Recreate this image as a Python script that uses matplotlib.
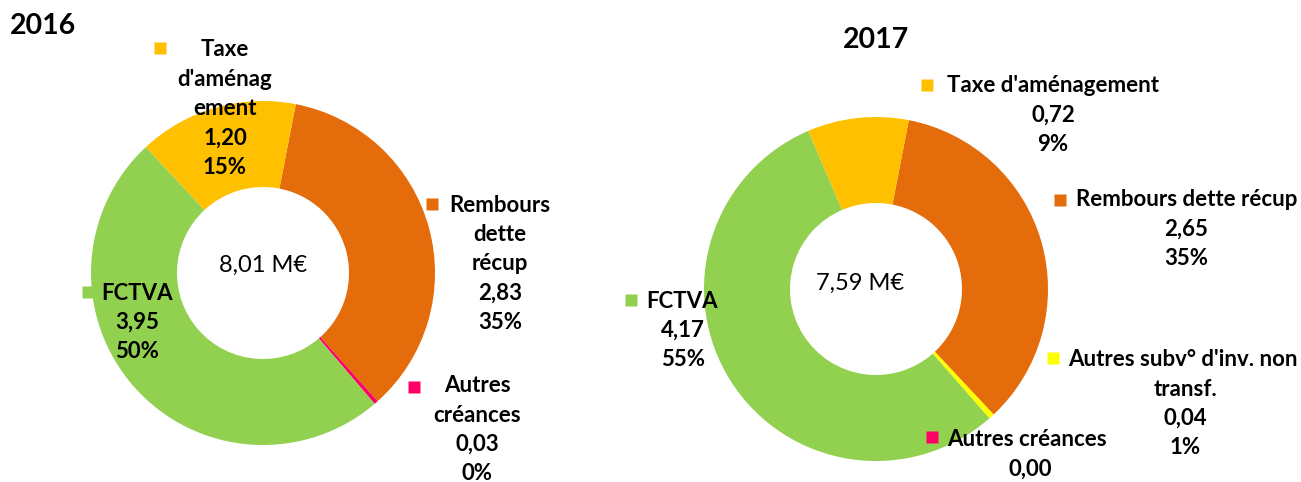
# -*- coding: utf8 -*-
import matplotlib
matplotlib.use("Agg")
import matplotlib.pyplot as plt

plt.rcParams['font.family'] = ['Lato', 'DejaVu Sans']

W, H = 1301, 482

# données 2016 (ordre horaire à partir de "Rembours")
cat_2016 = ["Rembours\ndette\nrécup", "Autres\ncréances", "FCTVA", "Taxe\nd'aménag\nement"]
val_2016 = [2.83, 0.03, 3.95, 1.20]
pct_2016 = ["35%", "0%", "50%", "15%"]
col_2016 = ["#E46C0A", "#FF0066", "#92D050", "#FFC000"]
total_2016 = "8,01 M€"

# données 2017
cat_2017 = ["Rembours dette récup", "Autres subv° d'inv. non\ntransf.", "Autres créances",
            "FCTVA", "Taxe d'aménagement"]
val_2017 = [2.65, 0.04, 0.00, 4.17, 0.72]
pct_2017 = ["35%", "1%", "", "55%", "9%"]
col_2017 = ["#E46C0A", "#FFFF00", "#FF0066", "#92D050", "#FFC000"]
total_2017 = "7,59 M€"


def fmt(v):
    return ("%.2f" % v).replace(".", ",")


# position des étiquettes (pixels) : repère, x 1re ligne, x autres lignes, y 1re ligne
pos_2016 = [((432, 204), 500, 500, 205),
            ((414, 387), 477, 477, 386),
            ((88, 292), 137, 137, 293),
            ((160, 48), 225, 225, 50)]
pos_2017 = [((1060, 200), 1187, 1186, 200),
            ((1053, 358), 1183, 1185, 360),
            ((932, 437), 1027, 1030, 440),
            ((631, 300), 682, 683, 301),
            ((927, 85), 1053, 1053, 86)]

fig = plt.figure(figsize=(W / 100, H / 100), dpi=100)


def donut(cx, cy, r, valeurs, couleurs):
    ax = fig.add_axes([(cx - r) / W, (H - cy - r) / H, 2 * r / W, 2 * r / H])
    ax.pie(valeurs, colors=couleurs, startangle=79, counterclock=False,
           wedgeprops=dict(width=0.5, edgecolor='none'))
    ax.set_xlim(-1, 1)
    ax.set_ylim(-1, 1)
    ax.axis('off')
    return ax


donut(263, 273, 172, val_2016, col_2016)
donut(876, 289, 172, val_2017, col_2017)

# calque des textes
ax0 = fig.add_axes([0, 0, 1, 1])
ax0.set_xlim(0, W)
ax0.set_ylim(H, 0)
ax0.axis('off')
ax0.patch.set_alpha(0)

ax0.text(10, 26, "2016", fontsize=20.5, fontweight='bold', ha='left', va='center')
ax0.text(876, 40, "2017", fontsize=20.5, fontweight='bold', ha='center', va='center')
ax0.text(263, 265, total_2016, fontsize=17, ha='center', va='center')
ax0.text(860, 283, total_2017, fontsize=17, ha='center', va='center')

pas = 29.3


def etiquettes(cats, vals, pcts, cols, positions):
    for c, v, p, col, ((kx, ky), x1, x2, y1) in zip(cats, vals, pcts, cols, positions):
        lignes = c.split("\n") + [fmt(v)]
        if p:
            lignes.append(p)
        ax0.plot(kx, ky, 's', color=col, ms=8, mec='none')
        for i, l in enumerate(lignes):
            x = x1 if i == 0 else x2
            ax0.text(x, y1 + i * pas, l, fontsize=16, fontweight='bold',
                     ha='center', va='center', color='black')


etiquettes(cat_2016, val_2016, pct_2016, col_2016, pos_2016)
etiquettes(cat_2017, val_2017, pct_2017, col_2017, pos_2017)

fig.savefig("out.png", dpi=100)
